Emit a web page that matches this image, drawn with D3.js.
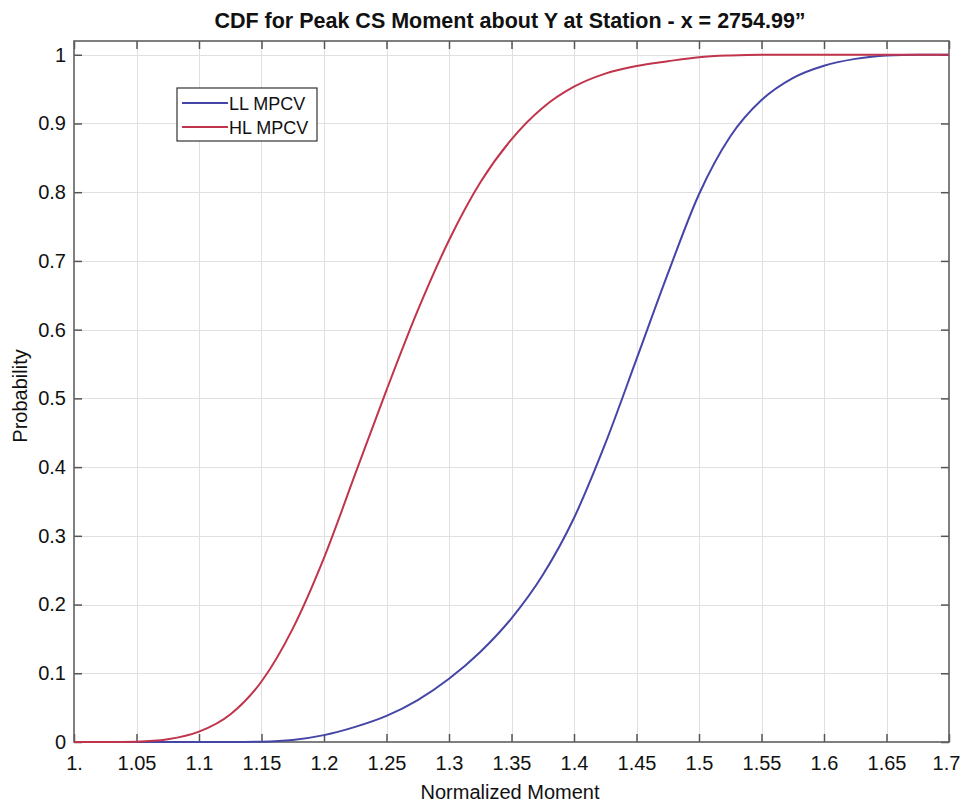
<!DOCTYPE html>
<html>
<head>
<meta charset="utf-8">
<script src="https://cdn.jsdelivr.net/npm/d3@7/dist/d3.min.js"></script>
<style>
  html, body { margin: 0; padding: 0; background: #fff; }
  svg { display: block; font-family: "Liberation Sans", Arial, Helvetica, sans-serif; }
</style>
</head>
<body>
<svg id="chart" width="961" height="803"></svg>
<script>
// Normalized moment sample points (x axis)
const moment = [1.0, 1.025, 1.05, 1.075, 1.1, 1.125, 1.15, 1.175, 1.2, 1.225, 1.25, 1.275, 1.3,
  1.325, 1.35, 1.375, 1.4, 1.425, 1.45, 1.475, 1.5, 1.525, 1.55, 1.575, 1.6, 1.625, 1.65, 1.675, 1.7];

// Cumulative probability, LL MPCV
const llMPCV = [0, 0, 0, 0, 0, 0, 0.0005, 0.003, 0.010, 0.022, 0.038, 0.061, 0.092,
  0.131, 0.180, 0.243, 0.326, 0.434, 0.557, 0.681, 0.797, 0.881, 0.934, 0.966, 0.984, 0.994, 0.999, 1, 1];

// Cumulative probability, HL MPCV
const hlMPCV = [0, 0, 0.0005, 0.004, 0.015, 0.040, 0.088, 0.165, 0.268, 0.390, 0.512, 0.628, 0.730,
  0.814, 0.877, 0.923, 0.9535, 0.9725, 0.9835, 0.9905, 0.9965, 0.999, 1, 1, 1, 1, 1, 1, 1];

const seriesNames = ["LL MPCV", "HL MPCV"];
const seriesColors = ["#4545a8", "#c0344c"];

const xTicks = d3.range(0, 15).map(i => +(1 + i * 0.05).toFixed(2));
const yTicks = d3.range(0, 11).map(i => +(i * 0.1).toFixed(1));
const xTickLabel = v => v === 1 ? "1." : String(v);
const yTickLabel = v => String(v);

const titleText = "CDF for Peak CS Moment about Y at Station - x = 2754.99\u201d";
const xLabelText = "Normalized Moment";
const yLabelText = "Probability";

const svg = d3.select("#chart");
const plotLeft = 74, plotRight = 949, plotTop = 41, plotBottom = 742;

const x = d3.scaleLinear().domain([1, 1.7]).range([plotLeft, plotRight]);
const y = d3.scaleLinear().domain([0, 1.02]).range([plotBottom, plotTop]);

// grid
const grid = svg.append("g").attr("stroke", "#e0e0e0").attr("stroke-width", 1);
grid.selectAll("line.vx").data(xTicks.slice(1, -1)).join("line")
  .attr("x1", d => Math.round(x(d)) + 0.5).attr("x2", d => Math.round(x(d)) + 0.5)
  .attr("y1", plotTop).attr("y2", plotBottom);
grid.selectAll("line.hy").data(yTicks.slice(1)).join("line")
  .attr("y1", d => Math.round(y(d)) + 0.5).attr("y2", d => Math.round(y(d)) + 0.5)
  .attr("x1", plotLeft).attr("x2", plotRight);

// axes with inward ticks on all four sides
const tickLen = 8;
const axStyle = g => {
  g.select(".domain").remove();
  g.selectAll(".tick line").attr("stroke", "#555").attr("stroke-width", 1.5);
  g.selectAll(".tick text").attr("fill", "#111").attr("font-size", 20)
    .attr("font-family", "'Liberation Sans', Arial, sans-serif");
};
const xAxisG = svg.append("g").attr("transform", `translate(0,${plotBottom})`)
  .call(d3.axisBottom(x).tickValues(xTicks).tickFormat(xTickLabel).tickSizeInner(-tickLen).tickSizeOuter(0).tickPadding(14))
  .call(axStyle);
// keep the last label inside the canvas edge
xAxisG.selectAll(".tick text").filter(d => d === 1.7).attr("dx", -3);

svg.append("g").attr("transform", `translate(0,${plotTop})`)
  .call(d3.axisTop(x).tickValues(xTicks).tickFormat("").tickSizeInner(-tickLen).tickSizeOuter(0))
  .call(axStyle);
svg.append("g").attr("transform", `translate(${plotLeft},0)`)
  .call(d3.axisLeft(y).tickValues(yTicks).tickFormat(yTickLabel).tickSizeInner(-tickLen).tickSizeOuter(0).tickPadding(8))
  .call(axStyle);
svg.append("g").attr("transform", `translate(${plotRight},0)`)
  .call(d3.axisRight(y).tickValues(yTicks).tickFormat("").tickSizeInner(-tickLen).tickSizeOuter(0))
  .call(axStyle);

// frame
svg.append("rect").attr("x", plotLeft).attr("y", plotTop)
  .attr("width", plotRight - plotLeft).attr("height", plotBottom - plotTop)
  .attr("fill", "none").attr("stroke", "#606060").attr("stroke-width", 1.6);

// curves
const line = d3.line().x(d => x(d[0])).y(d => y(d[1])).curve(d3.curveMonotoneX);
[llMPCV, hlMPCV].forEach((vals, i) => {
  svg.append("path")
    .datum(moment.map((m, j) => [m, vals[j]]))
    .attr("fill", "none")
    .attr("stroke", seriesColors[i])
    .attr("stroke-width", 2)
    .attr("d", line);
});

// title and axis labels
svg.append("text").attr("x", 510).attr("y", 28).attr("text-anchor", "middle")
  .attr("font-size", 21.5).attr("font-weight", "bold").attr("fill", "#111").text(titleText);
svg.append("text").attr("x", 510).attr("y", 799).attr("text-anchor", "middle")
  .attr("font-size", 20).attr("fill", "#111").text(xLabelText);
svg.append("text").attr("transform", "translate(27,396) rotate(-90)").attr("text-anchor", "middle")
  .attr("font-size", 20).attr("fill", "#111").text(yLabelText);

// legend
const lg = svg.append("g");
lg.append("rect").attr("x", 177).attr("y", 88).attr("width", 140).attr("height", 53)
  .attr("fill", "#fff").attr("stroke", "#333").attr("stroke-width", 1.2);
seriesNames.forEach((name, i) => {
  const yy = 103 + i * 24;
  lg.append("line").attr("x1", 182).attr("x2", 228).attr("y1", yy).attr("y2", yy)
    .attr("stroke", seriesColors[i]).attr("stroke-width", 2);
  lg.append("text").attr("x", 229).attr("y", yy + 6.5).attr("font-size", 18)
    .attr("fill", "#111").text(name);
});
</script>
</body>
</html>
